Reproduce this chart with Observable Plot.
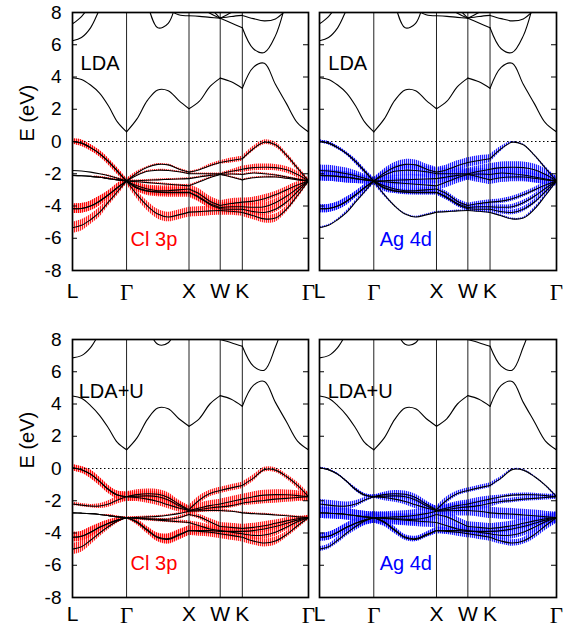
<!DOCTYPE html>
<html>
<head>
<meta charset="utf-8">
<script src="https://cdn.jsdelivr.net/npm/d3@7"></script>
<script src="https://cdn.jsdelivr.net/npm/@observablehq/plot@0.6"></script>
<style>
  body { margin: 0; background: #fff; }
  #fig { position: relative; width: 568px; height: 629px; overflow: hidden; }
  #fig > svg { position: absolute; }
</style>
</head>
<body>
<svg width="0" height="0" style="position:absolute">
  <defs>
    <pattern id="fatCl" patternUnits="userSpaceOnUse" width="2" height="2">
      <rect width="2" height="2" fill="#ff0000" fill-opacity="0.18"></rect>
      <rect width="1" height="2" fill="#ff0000" fill-opacity="0.85"></rect>
    </pattern>
    <pattern id="fatAg" patternUnits="userSpaceOnUse" width="2" height="2">
      <rect width="2" height="2" fill="#0000ff" fill-opacity="0.18"></rect>
      <rect width="1" height="2" fill="#0000ff" fill-opacity="0.85"></rect>
    </pattern>
  </defs>
</svg>
<div id="fig"></div>
<script>
// k-path L–Γ–X–W–K–Γ of the fcc Brillouin zone (units of 2π/a)
const kDist = [0, 0.144, 0.289, 0.433, 0.577, 0.722, 0.866,
  1.033, 1.2, 1.366, 1.533, 1.7, 1.866,
  2.033, 2.2, 2.366,
  2.543, 2.72,
  2.897, 3.073, 3.25, 3.427, 3.604, 3.78];
const symLabels = ["L", "Γ", "X", "W", "K", "Γ"];
const symIndex = [0, 6, 12, 15, 17, 23];
const eTicks = [-8, -6, -4, -2, 0, 2, 4, 6, 8];

// LDA bands (eV), one row per band along kDist
const ldaValence = [
  [0, -0.1, -0.38, -0.75, -1.25, -1.85, -2.45, -1.95, -1.6, -1.42, -1.45, -1.7, -1.9, -1.75, -1.5, -1.3, -1.18, -1.07, -0.45, -0.05, -0.2, -0.85, -1.65, -2.45],
  [0, -0.1, -0.38, -0.75, -1.25, -1.85, -2.45, -2.1, -1.85, -1.78, -1.8, -1.88, -2.0, -2.0, -2.0, -2.0, -1.85, -1.72, -1.62, -1.6, -1.62, -1.75, -2.05, -2.45],
  [-1.8, -1.83, -1.9, -2.0, -2.12, -2.28, -2.45, -2.43, -2.4, -2.38, -2.35, -2.33, -2.3, -2.2, -2.1, -2.05, -2.02, -2.05, -1.95, -2.0, -2.08, -2.2, -2.33, -2.45],
  [-2.1, -2.12, -2.16, -2.22, -2.3, -2.38, -2.45, -2.5, -2.55, -2.6, -2.65, -2.7, -2.75, -2.5, -2.25, -2.05, -2.2, -2.38, -2.25, -2.2, -2.2, -2.28, -2.38, -2.45],
  [-2.1, -2.12, -2.16, -2.22, -2.3, -2.38, -2.45, -2.75, -2.95, -3.05, -3.05, -3.0, -2.95, -3.25, -3.7, -3.97, -3.85, -3.76, -3.7, -3.55, -3.3, -3.0, -2.7, -2.45],
  [-4.17, -4.15, -4.0, -3.7, -3.3, -2.85, -2.45, -2.85, -3.05, -3.12, -3.15, -3.15, -3.15, -3.45, -3.85, -4.1, -4.05, -4.05, -4.08, -4.05, -3.8, -3.4, -2.9, -2.45],
  [-4.17, -4.15, -4.0, -3.7, -3.3, -2.85, -2.45, -2.9, -3.08, -3.15, -3.17, -3.17, -3.17, -3.5, -3.9, -4.17, -4.2, -4.2, -4.35, -4.4, -4.2, -3.75, -3.1, -2.45],
  [-5.35, -5.2, -4.85, -4.4, -3.75, -3.1, -2.45, -3.3, -4.0, -4.5, -4.68, -4.55, -4.38, -4.35, -4.3, -4.28, -4.33, -4.4, -4.6, -4.8, -4.75, -4.2, -3.35, -2.45]
];
const ldaConduction = [
  [3.95, 3.85, 3.5, 3.0, 2.2, 1.2, 0.6, 1.4, 2.55, 3.2, 3.15, 2.55, 2.03, 2.5, 3.4, 3.93, 3.7, 3.3, 4.6, 4.85, 3.55, 2.35, 1.15, 0.6],
  [7.3, 7.75, 8.5, 9.3, null, null, null, null, null, null, null, null, null, null, null, null, null, null, null, null, null, null, null, null],
  [6.25, 6.45, 7.05, 8.2, 9.4, null, null, null, null, null, null, null, null, null, null, null, null, null, null, null, null, null, null, null],
  [null, null, null, null, null, null, null, null, 8.6, 7.05, 7.33, 9.4, null, null, null, null, null, null, null, null, null, null, null, null],
  [null, null, null, null, null, null, null, null, null, null, 8.2, 7.86, 7.8, 7.76, 7.7, 7.65, 7.75, 7.82, 7.62, 7.48, 7.6, 8.2, null, null],
  [null, null, null, null, null, null, null, null, null, null, null, null, null, null, 8.3, 7.65, 7.35, 7.05, 5.75, 5.52, 6.55, 8.8, null, null],
  [null, null, null, null, null, null, null, null, null, null, null, null, null, 8.4, 7.95, 7.65, 8.0, 8.4, null, null, null, null, null, null]
];

// LDA+U bands (eV)
const ldauValence = [
  [0.05, -0.08, -0.35, -0.8, -1.3, -1.65, -1.75, -1.62, -1.57, -1.6, -1.8, -2.2, -2.55, -1.95, -1.55, -1.36, -1.2, -1.05, -0.6, -0.07, -0.1, -0.5, -1.05, -1.75],
  [0.05, -0.08, -0.35, -0.8, -1.3, -1.65, -1.75, -1.72, -1.7, -1.75, -1.95, -2.3, -2.6, -2.45, -2.3, -2.2, -2.05, -1.9, -1.75, -1.65, -1.62, -1.63, -1.68, -1.75],
  [-2.2, -2.27, -2.33, -2.33, -2.2, -1.95, -1.75, -1.8, -1.9, -2.05, -2.25, -2.45, -2.6, -2.55, -2.45, -2.38, -2.3, -2.15, -2.05, -1.98, -1.9, -1.85, -1.8, -1.75],
  [-2.75, -2.77, -2.8, -2.85, -2.92, -3.0, -3.05, -3.03, -3.0, -2.97, -2.9, -2.8, -2.65, -2.62, -2.6, -2.6, -2.65, -2.75, -2.8, -2.83, -2.88, -2.93, -3.0, -3.05],
  [-2.75, -2.77, -2.8, -2.85, -2.92, -3.0, -3.05, -3.08, -3.12, -3.15, -3.15, -3.05, -2.85, -3.0, -3.3, -3.6, -3.65, -3.72, -3.65, -3.55, -3.4, -3.25, -3.12, -3.05],
  [-4.26, -4.2, -3.95, -3.65, -3.4, -3.2, -3.05, -3.1, -3.15, -3.2, -3.25, -3.3, -3.35, -3.55, -3.75, -3.85, -3.95, -4.05, -4.15, -4.12, -3.95, -3.65, -3.3, -3.05],
  [-4.26, -4.2, -3.95, -3.65, -3.4, -3.2, -3.05, -3.35, -3.85, -4.3, -4.4, -4.15, -3.85, -3.9, -3.95, -4.05, -4.15, -4.26, -4.5, -4.62, -4.5, -4.1, -3.55, -3.05],
  [-5.0, -4.85, -4.45, -4.0, -3.6, -3.25, -3.05, -3.3, -3.8, -4.25, -4.35, -4.1, -3.85, -3.85, -3.85, -3.9, -3.9, -3.9, -3.85, -3.75, -3.6, -3.4, -3.2, -3.05]
];
const ldauConduction = [
  [4.5, 4.35, 3.9, 3.3, 2.5, 1.6, 1.16, 1.9, 3.05, 3.75, 3.7, 3.1, 2.62, 3.1, 4.0, 4.52, 4.3, 3.86, 5.15, 5.4, 4.1, 2.9, 1.7, 1.16],
  [6.86, 7.0, 7.5, 8.4, 9.3, null, null, null, null, null, null, null, null, null, null, null, null, null, null, null, null, null, null, null],
  [null, null, null, null, null, null, null, null, 8.9, 7.7, 7.8, 9.2, null, null, null, null, null, null, null, null, null, null, null, null],
  [null, null, null, null, null, null, null, null, null, null, null, null, null, null, 8.4, 8.0, 7.8, 7.58, 6.35, 6.1, 7.53, 9.5, null, null]
];

// orbital character of each valence band (0–7), drawn as fat bands
const clWeightLDA = [
  [3,4,4,4,4,4,3, 2,1,1,1,1,1, 1,2,2, 3,3, 3,3,3,3,3,3],
  [3,4,4,4,4,4,3, 1,1,1,1,1,1, 1,1,1, 2,4, 4,4,4,4,4,3],
  [0,0,0,0,1,1,2, 1,1,1,1,1,1, 1,1,1, 1,1, 1,1,1,1,1,2],
  [0,0,0,1,1,1,2, 1,1,1,1,1,1, 1,1,1, 1,1, 1,1,1,1,1,2],
  [0,0,0,1,1,1,2, 4,5,6,6,6,6, 6,6,6, 6,5, 5,5,4,4,4,3],
  [6,6,6,6,5,5,4, 5,6,6,6,6,6, 6,6,6, 6,5, 5,5,5,4,4,3],
  [6,6,6,6,5,5,4, 4,4,4,4,4,4, 5,5,5, 5,5, 4,4,4,4,3,3],
  [7,7,6,6,5,5,4, 5,6,6,6,6,6, 6,6,6, 5,5, 5,5,5,4,4,3]
];
const agWeightLDA = [
  [2,2,2,2,3,3,4, 5,6,6,6,6,6, 6,6,6, 6,5, 3,1,1,1,2,4],
  [2,2,2,2,3,3,4, 6,7,7,7,7,7, 7,7,7, 7,7, 7,7,7,7,7,6],
  [7,7,7,7,6,5,4, 6,6,6,6,6,6, 7,7,7, 7,7, 7,7,7,7,7,6],
  [7,7,7,7,6,5,4, 6,6,6,6,6,6, 7,7,7, 7,6, 6,6,6,6,6,6],
  [7,7,7,7,6,5,4, 4,3,3,3,3,3, 3,3,3, 3,3, 3,3,3,3,4,4],
  [5,5,5,5,4,4,4, 4,3,3,3,3,3, 3,3,3, 3,3, 3,3,3,3,3,4],
  [5,5,5,5,4,4,4, 4,3,3,3,3,3, 3,3,3, 3,3, 3,3,3,3,3,4],
  [1,1,1,2,2,3,4, 2,1,1,1,1,1, 1,1,1, 1,1, 1,1,1,2,2,3]
];
const clWeightLDAU = [
  [4,4,5,5,5,5,6, 6,6,6,6,5,5, 5,4,4, 4,4, 4,3,3,3,4,5],
  [4,4,5,5,5,5,6, 6,6,6,6,5,5, 6,6,6, 6,6, 6,6,6,6,6,6],
  [2,2,2,3,4,5,6, 5,5,5,5,5,5, 3,3,3, 3,3, 4,4,5,5,5,5],
  [0,0,0,0,1,1,0, 1,1,1,1,1,2, 2,2,2, 1,1, 1,1,1,1,1,1],
  [0,0,0,0,1,1,0, 1,1,1,1,2,2, 3,4,5, 5,5, 5,5,4,4,3,2],
  [6,6,6,5,4,3,1, 2,2,2,2,2,2, 4,5,6, 6,6, 5,5,5,4,4,3],
  [6,6,6,5,4,3,1, 3,4,5,6,6,6, 6,6,6, 6,6, 5,5,5,4,4,3],
  [7,7,6,5,4,3,1, 3,4,5,6,6,6, 5,5,5, 5,5, 4,4,4,4,3,3]
];
const agWeightLDAU = [
  [1,1,1,1,2,2,2, 3,4,4,4,4,4, 4,3,3, 3,3, 2,1,1,1,1,2],
  [1,1,1,1,2,2,2, 3,3,3,3,4,5, 5,5,5, 5,4, 2,2,2,2,2,3],
  [6,6,6,5,4,3,2, 4,4,4,5,5,5, 6,6,6, 6,5, 3,3,3,3,3,3],
  [7,7,7,7,7,7,7, 7,7,7,7,7,7, 7,7,7, 7,7, 7,7,7,7,7,7],
  [7,7,7,7,7,7,7, 7,7,7,7,7,6, 6,6,6, 6,6, 6,6,6,6,6,7],
  [5,5,5,5,6,6,7, 7,7,7,7,7,7, 5,5,5, 5,5, 5,5,5,6,6,7],
  [5,5,5,5,6,6,7, 5,4,3,3,3,4, 4,5,5, 5,5, 4,4,4,5,6,7],
  [3,3,4,4,5,6,7, 5,4,3,3,3,4, 4,4,4, 4,4, 3,3,3,4,5,7]
];

const FAT = 0.05; // half-height of a fat band, in eV per unit of weight
const SANS = "'Liberation Sans', Arial, Helvetica, sans-serif";
const SERIF = "'Liberation Serif', 'DejaVu Serif', serif";

// split every band at the high-symmetry points so kinks stay sharp
function bandRows(bands, weights, tag) {
  const rows = [];
  bands.forEach((band, b) => {
    for (let s = 0; s < symIndex.length - 1; s++) {
      for (let i = symIndex[s]; i <= symIndex[s + 1]; i++) {
        const e = band[i];
        rows.push({k: kDist[i], e: e == null ? NaN : e, w: weights ? weights[b][i] : 0, key: tag + b + ":" + s});
      }
    }
  });
  return rows;
}

function panel(cfg) {
  const frameW = cfg.width - cfg.ml - cfg.mr;
  const val = bandRows(cfg.valence, cfg.weights, "v");
  const con = bandRows(cfg.conduction, null, "c");
  const sym = symIndex.map((i, j) => ({k: kDist[i], s: symLabels[j]}));
  const marks = [
    Plot.areaY(val, {x: "k", y1: d => d.e - d.w * FAT, y2: d => d.e + d.w * FAT, z: "key",
      curve: "catmull-rom", fill: cfg.fat, clip: true}),
    Plot.ruleY([0], {stroke: "black", strokeWidth: 1, strokeDasharray: "1.5,2.5"}),
    Plot.ruleX(sym.slice(1, -1), {x: "k", stroke: "#222", strokeWidth: 1}),
    Plot.line(val.concat(con), {x: "k", y: "e", z: "key", curve: "catmull-rom",
      stroke: "black", strokeWidth: 1.1, clip: true}),
    Plot.ruleY(eTicks.slice(1, -1), {stroke: "black", strokeWidth: 1, insetRight: frameW - 5}),
    Plot.ruleY(eTicks.slice(1, -1), {stroke: "black", strokeWidth: 1, insetLeft: frameW - 5}),
    Plot.frame({stroke: "black", strokeWidth: 1.7}),
    Plot.text(sym.filter(d => d.s !== "Γ"), {x: "k", text: "s", frameAnchor: "bottom",
      lineAnchor: "top", dy: cfg.labelDy, fontSize: 21, fontFamily: SANS, fill: "black"}),
    Plot.text(sym.filter(d => d.s === "Γ"), {x: "k", text: "s", frameAnchor: "bottom",
      lineAnchor: "top", dy: cfg.labelDy, fontSize: 23, fontFamily: SERIF, fill: "black"}),
    Plot.text([cfg.title], {x: () => cfg.titleK, y: () => cfg.titleE, text: d => d,
      textAnchor: "start", lineAnchor: "bottom", fontSize: 20, fontFamily: SANS, fill: "black"}),
    Plot.text([cfg.orbital], {x: () => cfg.orbK, y: () => cfg.orbE, text: d => d,
      textAnchor: "start", lineAnchor: "bottom", fontSize: 20, fontFamily: SANS, fill: cfg.orbColor})
  ];
  if (cfg.showY) {
    marks.push(Plot.axisY(eTicks, {tickSize: 0, tickPadding: 11, tickFormat: d => String(d),
      fontSize: 19, fontFamily: SANS, label: null}));
    marks.push(Plot.text(["E (eV)"], {frameAnchor: "left", dx: -45, rotate: -90, text: d => d,
      fontSize: 20, fontFamily: SANS, fill: "black"}));
  }
  const svg = Plot.plot({
    width: cfg.width, height: cfg.height,
    marginLeft: cfg.ml, marginRight: cfg.mr, marginTop: cfg.mt, marginBottom: cfg.mb,
    x: {domain: [0, kDist[kDist.length - 1]], axis: null},
    y: {domain: [-8, 8], axis: null, label: null},
    style: {background: "transparent", overflow: "visible", fontFamily: SANS, color: "black"},
    marks
  });
  svg.style.left = cfg.left + "px";
  svg.style.top = cfg.top + "px";
  svg.style.position = "absolute";
  svg.style.maxWidth = "none";
  document.getElementById("fig").appendChild(svg);
}

const topRow = {top: 0, height: 310, mt: 12, mb: 40, labelDy: 13};
const bottomRow = {top: 310, height: 319, mt: 29, mb: 32, labelDy: 9};
const leftCol = {left: 0, width: 312, ml: 72, mr: 4, showY: true};
const rightCol = {left: 312, width: 256, ml: 7, mr: 12, showY: false};

panel({...topRow, ...leftCol, valence: ldaValence, conduction: ldaConduction, weights: clWeightLDA,
  fat: "url(#fatCl)", title: "LDA", titleK: 0.13, titleE: 4.45,
  orbital: "Cl 3p", orbK: 0.93, orbE: -6.45, orbColor: "#ff0000"});
panel({...topRow, ...rightCol, valence: ldaValence, conduction: ldaConduction, weights: agWeightLDA,
  fat: "url(#fatAg)", title: "LDA", titleK: 0.14, titleE: 4.45,
  orbital: "Ag 4d", orbK: 0.96, orbE: -6.45, orbColor: "#0000ff"});
panel({...bottomRow, ...leftCol, valence: ldauValence, conduction: ldauConduction, weights: clWeightLDAU,
  fat: "url(#fatCl)", title: "LDA+U", titleK: 0.1, titleE: 4.4,
  orbital: "Cl 3p", orbK: 0.93, orbE: -6.3, orbColor: "#ff0000"});
panel({...bottomRow, ...rightCol, valence: ldauValence, conduction: ldauConduction, weights: agWeightLDAU,
  fat: "url(#fatAg)", title: "LDA+U", titleK: 0.13, titleE: 4.4,
  orbital: "Ag 4d", orbK: 0.96, orbE: -6.3, orbColor: "#0000ff"});
</script>
</body>
</html>
